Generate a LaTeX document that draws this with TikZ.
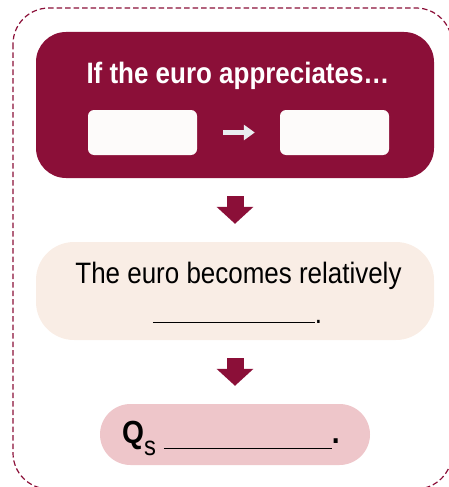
\documentclass[tikz,border=0pt]{standalone}
\usepackage{fontspec}
\setmainfont{Liberation Sans}[FakeStretch=0.88]
\usetikzlibrary{arrows.meta}
\definecolor{maroon}{HTML}{8B0F38}
\definecolor{midfill}{HTML}{F9EDE5}
\definecolor{botfill}{HTML}{EEC6CA}
\definecolor{whitebox}{HTML}{FDFBFA}
\definecolor{arrowwhite}{HTML}{E9EEF0}
\tikzset{
  panel/.style={draw=none, rounded corners=#1, inner sep=0pt},
  blockarrow/.style={draw=maroon, line width=17pt, line cap=butt,
    -{Triangle[width=36pt,length=17pt]}, shorten <=18pt, shorten >=18pt},
  smallarrow/.style={draw=arrowwhite, line width=5pt, line cap=butt,
    -{Triangle[width=15pt,length=11pt]}, shorten <=26pt, shorten >=25pt},
  txt/.style={inner sep=0pt, font=\fontsize{29.5}{32}\selectfont},
}
\begin{document}
\begin{tikzpicture}[x=1pt,y=-1pt]
\useasboundingbox (0,0) rectangle (449,487);
\begin{scope}
\clip (0,0) rectangle (449,487);
\draw[maroon, line width=1.2pt, dash pattern=on 5.5pt off 3pt, rounded corners=36pt] (13,8) rectangle (452,489);
\end{scope}
% top box
\node[panel=30pt, fill=maroon, minimum width=398pt, minimum height=146pt] (top) at (235,105) {};
\node[txt, anchor=base, text=white, font=\fontsize{29.5}{32}\selectfont\bfseries] (title) at (238,83) {If the euro appreciates…};
\node[panel=6pt, fill=whitebox, minimum width=109pt, minimum height=45pt] (wl) at (142.5,132.5) {};
\node[panel=6pt, fill=whitebox, minimum width=109pt, minimum height=45pt] (wr) at (334.5,132.5) {};
\draw[smallarrow] (wl.east) -- (wr.west);
% middle box
\node[panel=38pt, fill=midfill, minimum width=398pt, minimum height=98pt] (mid) at (235,291) {};
\node[txt, anchor=base] (l1) at (238.5,283) {The euro becomes relatively};
\node[txt, anchor=base] (l2) at (237.5,323) {\rule{162pt}{1pt}.};
% bottom box
\node[panel=30.5pt, fill=botfill, minimum width=270pt, minimum height=61pt] (bot) at (235,434.5) {};
\node[txt, anchor=base west, font=\fontsize{32}{34}\selectfont\bfseries] (l3) at (122,443) {Q\raisebox{-12pt}{\fontsize{27}{27}\selectfont\mdseries s}\hspace{8pt}\rule[-6pt]{168pt}{1.4pt}.};
% connectors
\draw[blockarrow] (top.south) -- (mid.north);
\draw[blockarrow] (mid.south) -- (bot.north);
\end{tikzpicture}
\end{document}
